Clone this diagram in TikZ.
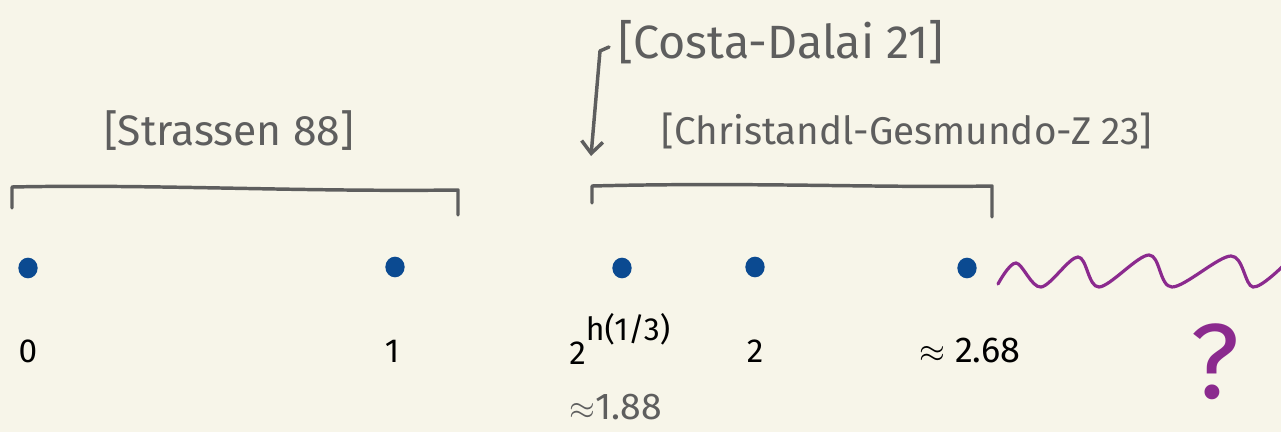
\documentclass[tikz,border=0pt]{standalone}
\usepackage{fontspec}
\setmainfont{Fira Sans}
\usetikzlibrary{arrows.meta,shapes.geometric}
\definecolor{paper}{HTML}{F7F5E9}
\definecolor{pencil}{HTML}{5E5E5E}
\definecolor{ink}{HTML}{0B4A91}
\definecolor{plum}{HTML}{8B2A8E}
\tikzset{
  bracket/.style={draw=pencil, line width=2.6pt, line cap=round, line join=round},
  ref/.style={text=pencil, font=\fontsize{32}{34}\selectfont, inner sep=0.75pt},
  val/.style={font=\fontsize{25}{27}\selectfont, inner sep=0.75pt},
  dot/.style={ellipse, fill=ink, minimum width=14.5pt, minimum height=15.5pt, inner sep=0pt}
}
\begin{document}
\begin{tikzpicture}[x=0.75pt,y=0.75pt,yscale=-1,xscale=1]
        \fill[paper] (0,0) rectangle (1281,432);
        \useasboundingbox (0,0) rectangle (1281,432);
        % brackets
        \draw[bracket] (12,208) -- (12,187) .. controls (150,184) and (300,192) .. (458,190) -- (458,215);
        \draw[bracket] (592,203) -- (592,186) .. controls (750,182) and (880,188) .. (992,186) -- (992,217);
        \node[ref] (strassen) at (229,131) {[Strassen 88]};
        \node[ref, font=\fontsize{35}{37}\selectfont] (costa) at (781,42) {[Costa-Dalai 21]};
        \node[ref, font=\fontsize{29}{31}\selectfont] (christ) at (907,131) {[Christandl-Gesmundo-Z 23]};
        \coordinate (hook) at (609,47);
        \coordinate (tip) at (591,156);
        \draw[bracket, -{Straight Barb[length=9pt,width=16pt,line width=2.6pt]}] (hook) -- (600,51) -- (tip);
        % points
        \node[dot] (d0) at (28,268) {};
        \node[dot] (d1) at (395,267) {};
        \node[dot] (dh) at (622,268) {};
        \node[dot] (d2) at (755,267) {};
        \node[dot] (dc) at (967,268) {};
        \node[val, anchor=base] (v0) at (28,362) {0};
        \node[val, anchor=base] (v1) at (392,362) {1};
        \node[val, anchor=base west] (vh) at (568,364) {2\raisebox{0.72em}{\fontsize{24}{25}\selectfont h(1/3)}};
        \node[val, anchor=base] (v2) at (755,362) {2};
        \node[val, font=\fontsize{27}{29}\selectfont, anchor=base] (vc) at (970,362) {$\approx$ 2.68};
        \node[val, font=\fontsize{28}{30}\selectfont, text=pencil, anchor=base] (vapprox) at (616,419) {$\approx$1.88};
        % open end
        \draw[plum, line width=2.4pt, line cap=round] plot[smooth, tension=0.55] coordinates {(998,284) (1016,263) (1041,287) (1078,257) (1099,287) (1149,255) (1172,287) (1231,256) (1253,287) (1285,264)};
        \node[text=plum, font=\fontsize{80}{80}\selectfont] (qm) at (1215,362) {?};
\end{tikzpicture}
\end{document}
